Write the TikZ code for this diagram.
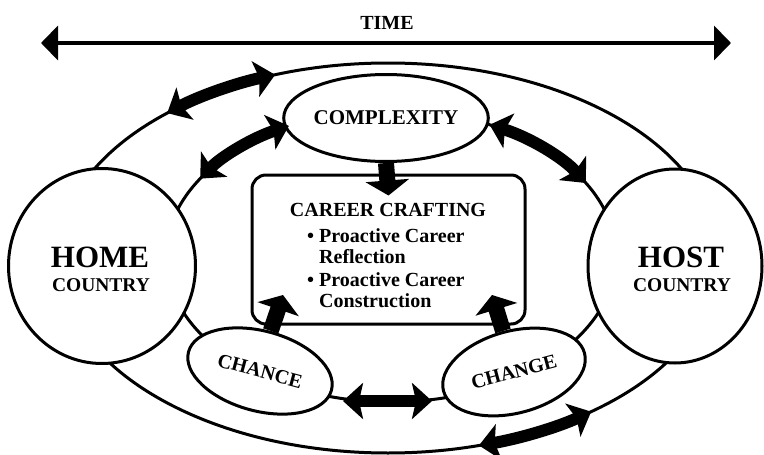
\documentclass[tikz,border=0pt]{standalone}
\usepackage{fontspec}
\setmainfont{Liberation Serif}
\usetikzlibrary{shapes.geometric,arrows.meta}
\begin{document}
\begin{tikzpicture}[x=1pt,y=-1pt,
  ring/.style={draw, line width=3pt},
  shapeb/.style={draw, line width=3pt, fill=white, inner sep=0pt, font=\bfseries},
  ringarrow/.style={line width=12pt, {Stealth[length=20pt,width=36pt,inset=4pt]}-{Stealth[length=20pt,width=36pt,inset=4pt]}},
  blockarrow/.style={line width=16pt, -{Triangle[length=15pt,width=43pt]}},
  timearrow/.style={line width=4pt, {Triangle[length=17pt,width=34pt]}-{Triangle[length=17pt,width=34pt]}},
  txt/.style={font=\bfseries, inner sep=0pt},
]
\useasboundingbox (0,0) rectangle (764,455);
% rings
\coordinate (O) at (388,258);
\coordinate (I) at (391,256);
\draw[ring] (O) ellipse[x radius=330, y radius=195];
\draw[ring] (I) ellipse[x radius=225, y radius=146];
% time
\coordinate (tl) at (41,43);
\coordinate (tr) at (731,43);
\draw[timearrow] (tl) -- (tr);
\node[txt, anchor=base] (time) at (387,30) {\fontsize{20}{20}\selectfont TIME};
% countries
\node[shapeb, ellipse, minimum width=187pt, minimum height=195pt] (home) at (102,266) {};
\node[shapeb, ellipse, minimum width=174pt, minimum height=194pt] (host) at (675,266) {};
\node[txt, anchor=base] (homet) at (100,267) {\fontsize{31}{31}\selectfont HOME};
\node[txt, anchor=base] (homec) at (101,291) {\fontsize{19.5}{19.5}\selectfont COUNTRY};
\node[txt, anchor=base] (hostt) at (681,267) {\fontsize{31}{31}\selectfont HOST};
\node[txt, anchor=base] (hostc) at (682,291) {\fontsize{19.5}{19.5}\selectfont COUNTRY};
% C nodes
\node[shapeb, ellipse, minimum width=157pt, minimum height=87pt] (cx) at (386,118) {\fontsize{21}{21}\selectfont COMPLEXITY};
\node[shapeb, ellipse, rotate=-15, minimum width=148pt, minimum height=80pt] (chance) at (260,371) {\fontsize{20}{20}\selectfont CHANCE};
\node[shapeb, ellipse, rotate=15, minimum width=146pt, minimum height=82pt] (change) at (514,372) {\fontsize{20}{20}\selectfont CHANGE};
% box
\node[shapeb, rectangle, rounded corners=14pt, minimum width=273pt, minimum height=149pt] (box) at (388.5,249.5) {};
\node[txt, anchor=base] (bh) at (388,216) {\fontsize{20}{20}\selectfont CAREER CRAFTING};
\node[txt, anchor=base west] (b1) at (307,242) {\fontsize{20}{20}\selectfont \textbullet\ Proactive Career};
\node[txt, anchor=base west] (b1b) at (319,263) {\fontsize{20}{20}\selectfont Reflection};
\node[txt, anchor=base west] (b2) at (307,286) {\fontsize{20}{20}\selectfont \textbullet\ Proactive Career};
\node[txt, anchor=base west] (b2b) at (319,307) {\fontsize{20}{20}\selectfont Construction};
% ring arrows
\draw[ringarrow] ([shift={(-132:330 and 195)}]O) arc[start angle=-132, end angle=-110, x radius=330, y radius=195];
\draw[ringarrow] ([shift={(74:330 and 195)}]O) arc[start angle=74, end angle=52, x radius=330, y radius=195];
\draw[ringarrow] ([shift={(-148:225 and 146)}]I) arc[start angle=-148, end angle=-117, x radius=225, y radius=146];
\draw[ringarrow] ([shift={(-64:225 and 146)}]I) arc[start angle=-64, end angle=-30, x radius=225, y radius=146];
\coordinate (m1) at (343,401);
\coordinate (m2) at (432,401);
\draw[ringarrow] (m1) -- (m2);
% block arrows
\coordinate (t1) at (283,295);
\coordinate (t2) at (492,295);
\draw[blockarrow] (cx.south) -- ([yshift=-22pt]box.north);
\draw[blockarrow] (chance.north) -- (t1);
\draw[blockarrow] (change.north) -- (t2);
\end{tikzpicture}
\end{document}
